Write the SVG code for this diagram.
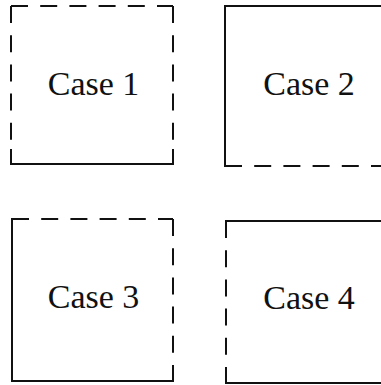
<svg xmlns="http://www.w3.org/2000/svg" width="381" height="385" viewBox="0 0 381 385">
<style>
.s{fill:none;stroke:#111;stroke-width:2;stroke-linecap:square}
.d{fill:none;stroke:#111;stroke-width:2;stroke-dasharray:17 12.2}
.t{font-family:"Liberation Serif","Times New Roman",serif;font-size:34px;fill:#111;text-anchor:middle}
</style>
<rect width="381" height="385" fill="#fff"/>
<g id="case1">
<path class="d" d="M11,6 H173"/>
<path class="d" d="M11,6 V164"/>
<path class="d" d="M173,6 V164"/>
<path class="s" d="M11,150 V164 H173 V150"/>
<text class="t" x="93.5" y="95">Case 1</text>
</g>
<g id="case2">
<path class="s" d="M390,6 H225 V166"/>
<path class="d" d="M225,166 H390"/>
<text class="t" x="309" y="95">Case 2</text>
</g>
<g id="case3">
<path class="s" d="M12,219 V381 H173"/>
<path class="d" d="M12,219 H173"/>
<path class="d" d="M173,219 V381"/>
<text class="t" x="93.5" y="308">Case 3</text>
</g>
<g id="case4">
<path class="s" d="M390,221 H226"/>
<path class="s" d="M226,383 H390"/>
<path class="d" d="M226,221 V383"/>
<path class="s" d="M226,230 V221 M226,374 V383"/>
<text class="t" x="309" y="309">Case 4</text>
</g>
</svg>
